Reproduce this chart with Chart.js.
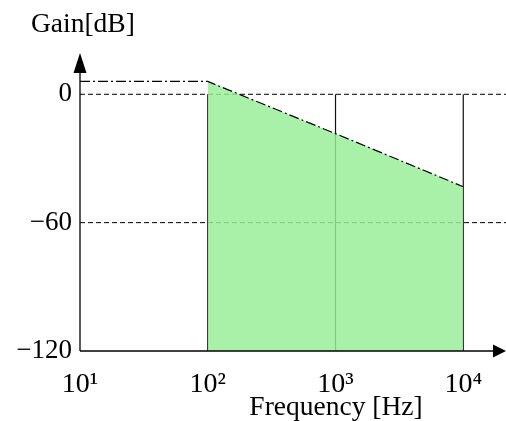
<!DOCTYPE html>
<html>
<head>
<meta charset="utf-8">
<script src="https://cdn.jsdelivr.net/npm/chart.js@4/dist/chart.umd.min.js"></script>
<style>
  html, body { margin: 0; padding: 0; background: #fff; }
  #wrap { width: 506px; height: 421px; }
</style>
</head>
<body>
<div id="wrap"><canvas id="bode"></canvas></div>
<script>
const FONT = "'Liberation Serif', 'DejaVu Serif', serif";

// x axis (log) decades and labels
const freqTicks = [10, 100, 1000, 10000];
const freqLabels = ["10\u00b9", "10\u00b2", "10\u00b3", "10\u2074"];
const freqMin = 10;
const freqMax = 21600;

// y axis
const gainTicks = [-120, -60, 0];
const gainMin = -120;
const gainMax = 19.3;

// asymptote (dash-dot)
const asymFreq = [10, 100, 1000, 10000];
const asymGain = [6, 6, -18.4, -43.2];

// shaded band
const bandFreq = [100, 1000, 10000];
const bandGain = [6, -18.4, -43.2];

// vertical marker lines (0 dB down to -120 dB)
const markerFreq = [100, 1000, 10000];
const markerTop = 0;

// dashed reference levels
const refLevels = [0, -60];

const datasets = [];

markerFreq.forEach(f => {
  datasets.push({
    data: [{ x: f, y: markerTop }, { x: f, y: gainMin }],
    borderColor: "#111",
    borderWidth: 1.2,
    pointRadius: 0,
    fill: false,
    order: 5
  });
});

refLevels.forEach(v => {
  datasets.push({
    data: [{ x: freqMin, y: v }, { x: freqMax, y: v }],
    borderColor: "#000",
    borderWidth: 1,
    borderDash: [5, 3],
    pointRadius: 0,
    fill: false,
    order: 4
  });
});

datasets.push({
  data: bandFreq.map((f, i) => ({ x: f, y: bandGain[i] })),
  borderWidth: 0,
  borderColor: "rgba(0,0,0,0)",
  backgroundColor: "rgba(152,238,152,0.84)",
  pointRadius: 0,
  fill: "start",
  order: 3
});

datasets.push({
  data: asymFreq.map((f, i) => ({ x: f, y: asymGain[i] })),
  borderColor: "#000",
  borderWidth: 1.2,
  borderDash: [10, 3, 2, 3],
  pointRadius: 0,
  fill: false,
  order: 1
});

const axesPlugin = {
  id: "axes",
  afterDatasetsDraw(chart) {
    const { ctx, chartArea: a } = chart;
    const head = 13, half = 6.5;
    ctx.save();
    ctx.strokeStyle = "#000";
    ctx.fillStyle = "#000";
    ctx.lineWidth = 1.3;
    // y axis
    ctx.beginPath();
    ctx.moveTo(a.left, a.bottom);
    ctx.lineTo(a.left, a.top + head);
    ctx.stroke();
    ctx.beginPath();
    ctx.moveTo(a.left, a.top);
    ctx.lineTo(a.left - half, a.top + head + 7);
    ctx.lineTo(a.left + half, a.top + head + 7);
    ctx.closePath();
    ctx.fill();
    // x axis
    ctx.beginPath();
    ctx.moveTo(a.left, a.bottom);
    ctx.lineTo(a.right - head, a.bottom);
    ctx.stroke();
    ctx.beginPath();
    ctx.moveTo(a.right, a.bottom);
    ctx.lineTo(a.right - head, a.bottom - half);
    ctx.lineTo(a.right - head, a.bottom + half);
    ctx.closePath();
    ctx.fill();
    // axis titles
    ctx.font = "27.5px " + FONT;
    ctx.textBaseline = "alphabetic";
    ctx.textAlign = "left";
    ctx.fillText("Gain[dB]", 31, 32);
    ctx.textAlign = "center";
    ctx.fillText("Frequency [Hz]", 336, 415);
    ctx.restore();
  }
};

new Chart(document.getElementById("bode"), {
  type: "line",
  data: { datasets },
  options: {
    responsive: true,
    maintainAspectRatio: false,
    animation: false,
    layout: { padding: { top: 53, right: 0, left: 0, bottom: 0 } },
    plugins: { legend: { display: false }, tooltip: { enabled: false } },
    scales: {
      x: {
        type: "logarithmic",
        min: freqMin,
        max: freqMax,
        afterBuildTicks: s => { s.ticks = freqTicks.map(v => ({ value: v })); },
        afterFit: s => { s.height = 70; },
        grid: { display: false, drawTicks: false },
        border: { display: false },
        ticks: {
          autoSkip: false,
          maxRotation: 0,
          padding: 17,
          color: "#000",
          font: { size: 28, family: FONT },
          callback: (v, i) => freqLabels[i]
        }
      },
      y: {
        min: gainMin,
        max: gainMax,
        afterBuildTicks: s => { s.ticks = gainTicks.map(v => ({ value: v })); },
        afterFit: s => { s.width = 80; },
        grid: { display: false, drawTicks: false },
        border: { display: false },
        ticks: {
          padding: 8,
          color: "#000",
          font: { size: 27, family: FONT },
          callback: v => (v < 0 ? "\u2212" + Math.abs(v) : String(v))
        }
      }
    }
  },
  plugins: [axesPlugin]
});
</script>
</body>
</html>
